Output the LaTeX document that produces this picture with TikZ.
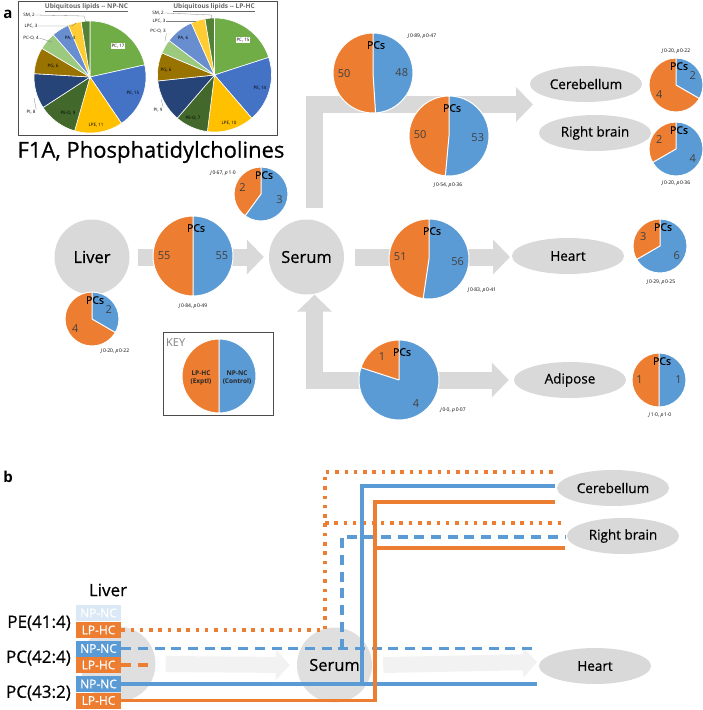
\documentclass[tikz,border=0pt]{standalone}
\usepackage{fontspec}
\setmainfont{Open Sans}
\newfontfamily\semib{Open Sans}[FakeBold=0.6]
\usetikzlibrary{arrows.meta,shapes.geometric}

\definecolor{pcblue}{HTML}{5B9BD5}
\definecolor{pcorange}{HTML}{ED7D31}
\definecolor{organgray}{HTML}{D9D9D9}
\definecolor{numgray}{HTML}{404040}
\definecolor{lipPC}{HTML}{70AD47}
\definecolor{lipPE}{HTML}{4472C4}
\definecolor{lipLPE}{HTML}{FFC000}
\definecolor{lipPEO}{HTML}{43682B}
\definecolor{lipPI}{HTML}{264478}
\definecolor{lipPG}{HTML}{997300}
\definecolor{lipPCO}{HTML}{9BC97E}
\definecolor{lipPA}{HTML}{698ED0}
\definecolor{lipLPC}{HTML}{FFCD33}
\definecolor{lipSM}{HTML}{548235}

% PCs pie: name, x, y, radius, NP-NC, LP-HC
\newcommand{\pcpie}[6]{%
  \pgfmathsetmacro\pcang{-90+#5*(360/(#5+#6))}%
  \pgfmathsetmacro\pcmidb{(\pcang-90)/2}%
  \pgfmathsetmacro\pcmido{(\pcang+270)/2}%
  \coordinate (#1) at (#2,#3);
  \fill[pcblue] (#1) -- ++(-90:#4) arc (-90:\pcang:#4) -- cycle;
  \fill[pcorange] (#1) -- ++(\pcang:#4) arc (\pcang:270:#4) -- cycle;
  \draw[white, line width=1pt] (#1) circle (#4) (#1) -- ++(-90:#4) (#1) -- ++(\pcang:#4);
  \path (#1) ++(\pcmidb:{0.72*#4}) node[pcnum] (#1-np) {#5};
  \path (#1) ++(\pcmido:{0.72*#4}) node[pcnum] (#1-lp) {#6};
  \path (#1) ++(3,{-0.7*#4}) node[pcs] (#1-lbl) {PCs};
}

\begin{document}
\begin{tikzpicture}[x=1pt, y=-1pt,
  organ/.style={circle, fill=organgray, minimum size=75pt, inner sep=0pt, font=\semib\fontsize{16.5}{18}\selectfont},
  tissue/.style={ellipse, fill=organgray, minimum width=112pt, minimum height=36pt, inner sep=0pt, font=\semib\fontsize{13.5}{15}\selectfont},
  band/.style={draw=organgray, line width=17pt, -{Triangle[width=34pt,length=17pt]}},
  pcnum/.style={font=\fontsize{11}{12}\selectfont, text=numgray, inner sep=0pt},
  pcs/.style={font=\semib\fontsize{10.5}{12}\selectfont, inner sep=0pt},
  stat/.style={font=\fontsize{5}{6}\selectfont, inner sep=0pt},
  lip/.style={font=\fontsize{4.5}{5}\selectfont, inner sep=0.6pt},
  lead/.style={draw=gray, line width=0.3pt},
  grp/.style={rectangle, minimum width=45pt, minimum height=16pt, inner sep=0pt, text=white, font=\semib\fontsize{12}{13}\selectfont},
  lipid/.style={font=\semib\fontsize{17}{19}\selectfont, anchor=east, inner sep=0pt},
  trace/.style={line width=3.2pt},
  dotline/.style={trace, dash pattern=on 3.5pt off 5.8pt},
  dashline/.style={trace, dash pattern=on 10pt off 6.7pt},
]
\useasboundingbox (0,0) rectangle (703,710);

% ---- panel a ----
\node[font=\fontsize{15}{16}\selectfont\bfseries] (panela) at (8,14) {a};

% inset with the two lipid pies
\draw[black!70, line width=0.6pt] (18,1) rectangle (277,135);
\node[font=\fontsize{6.5}{7}\selectfont\bfseries, text=black!60] (titlenp) at (86.5,8) {\underline{Ubiquitous lipids -{}- NP-NC}};
\node[font=\fontsize{6.5}{7}\selectfont\bfseries, text=black!60] (titlelp) at (214,8) {\underline{Ubiquitous lipids -{}- LP-HC}};
\coordinate (npc) at (90,77);
\coordinate (lpc) at (214.5,75);
\foreach \a/\b/\c in {-90/-12.53/lipPC, -12.53/55.82/lipPE, 55.82/105.95/lipLPE, 105.95/146.96/lipPEO,
    146.96/183.42/lipPI, 183.42/210.76/lipPG, 210.76/228.99/lipPCO, 228.99/247.22/lipPA, 247.22/260.89/lipLPC, 260.89/270/lipSM}
  \filldraw[fill=\c, draw=white, line width=0.6pt] (npc) -- ++(\a:56) arc (\a:\b:56) -- cycle;
\foreach \a/\b/\c in {-90/-18/lipPC, -18/49.2/lipPE, 49.2/97.2/lipLPE, 97.2/130.8/lipPEO,
    130.8/174/lipPI, 174/202.8/lipPG, 202.8/217.2/lipPCO, 217.2/246/lipPA, 246/260.4/lipLPC, 260.4/270/lipSM}
  \filldraw[fill=\c, draw=white, line width=0.6pt] (lpc) -- ++(\a:57) arc (\a:\b:57) -- cycle;

\node[lip, fill=white] (np-pc) at (118,46) {PC, 17};
\node[lip] (np-pe) at (133,93) {PE, 15};
\node[lip] (np-lpe) at (96,125) {LPE, 11};
\node[lip] (np-peo) at (68,113) {PE-O, 9};
\node[lip] (np-pi) at (31,112) {PI, 8};
\node[lip] (np-pg) at (53,66) {PG, 6};
\node[lip] (np-pco) at (31,38) {PC-O, 4};
\node[lip] (np-pa) at (70,38) {PA, 4};
\node[lip] (np-lpc) at (31,26) {LPC, 3};
\node[lip] (np-sm) at (29,15) {SM, 2};
\draw[lead] (np-sm.east) -- (84,16) -- (86,22);
\draw[lead] (np-lpc.east) -- (72,26) -- (76,23);
\draw[lead] (np-pco.east) -- (52,42);
\draw[lead] (np-pi.north east) -- (34,98);

\node[lip, fill=white] (lp-pc) at (243,40) {PC, 15};
\node[lip] (lp-pe) at (260,88) {PE, 14};
\node[lip] (lp-lpe) at (229,123) {LPE, 10};
\node[lip] (lp-peo) at (193,118) {PE-O, 7};
\node[lip] (lp-pi) at (158,110) {PI, 9};
\node[lip] (lp-pg) at (166,70) {PG, 6};
\node[lip] (lp-pco) at (158,31) {PC-O, 3};
\node[lip] (lp-pa) at (183,38) {PA, 6};
\node[lip] (lp-lpc) at (159,21) {LPC, 3};
\node[lip] (lp-sm) at (158,13) {SM, 2};
\draw[lead] (lp-sm.east) -- (212,15) -- (211,19);
\draw[lead] (lp-lpc.east) -- (196,21);
\draw[lead] (lp-pco.south east) -- (165,41);
\draw[lead] (lp-pi.north east) -- (161,99);

\node[font=\semib\fontsize{22}{24}\selectfont] (f1a) at (151,152) {F1A, Phosphatidylcholines};

% organs and tissues
\node[organ] (liver) at (92,257) {Liver};
\node[organ] (serum) at (306.5,257) {Serum};
\node[tissue] (cereb) at (586,84) {Cerebellum};
\node[tissue] (rbrain) at (595,133) {Right brain};
\node[tissue] (heart) at (568,256) {Heart};
\node[tissue] (adipose) at (570,380) {Adipose};
\coordinate (brainin) at (533,104.5);
\coordinate (heartin) at (510,257);

% block arrows
\draw[band] ([xshift=8pt]liver.east) -- ([xshift=-5pt]serum.west);
\draw[band] ([xshift=8pt,yshift=11.5pt]serum.north) |- (brainin);
\draw[band] ([xshift=11pt]serum.east) -- (heartin);
\draw[band, {Triangle[width=34pt,length=17pt]}-{Triangle[width=34pt,length=17pt]}]
  ([xshift=8pt]serum.south) |- ([xshift=-5pt]adipose.west);

% pies
\pcpie{lvpie}{92}{319}{27}{2}{4}
\pcpie{lspie}{193}{256}{40}{55}{55}
\pcpie{sepie}{261}{194}{27}{3}{2}
\pcpie{cbpie}{373}{73}{40}{48}{50}
\pcpie{rbpie}{449}{136}{40}{53}{50}
\pcpie{htpie}{429}{259}{40}{56}{51}
\pcpie{adpie}{399}{380}{40}{4}{1}
\pcpie{cbpiet}{676}{85}{27}{2}{4}
\pcpie{rbpiet}{676}{149}{27}{4}{2}
\pcpie{htpiet}{660}{246}{27}{6}{3}
\pcpie{adpiet}{659}{380}{27}{1}{1}

% statistics
\node[stat] (lvstat) at (115,351) {\textit{J}\,0·20, \textit{p}\,0·22};
\node[stat] (lsstat) at (193,306) {\textit{J}\,0·84, \textit{p}\,0·49};
\node[stat] (sestat) at (223,173) {\textit{J}\,0·67, \textit{p}\,1·0};
\node[stat] (cbstat) at (422,36) {\textit{J}\,0·89, \textit{p}\,0·47};
\node[stat] (rbstat) at (448,185) {\textit{J}\,0·54, \textit{p}\,0·36};
\node[stat] (htstat) at (482,290) {\textit{J}\,0·83, \textit{p}\,0·41};
\node[stat] (adstat) at (453,410) {\textit{J}\,0·0, \textit{p}\,0·07};
\node[stat] (cbstatt) at (676,51) {\textit{J}\,0·20, \textit{p}\,0·22};
\node[stat] (rbstatt) at (676,183) {\textit{J}\,0·20, \textit{p}\,0·36};
\node[stat] (htstatt) at (661,282) {\textit{J}\,0·29, \textit{p}\,0·25};
\node[stat] (adstatt) at (660,415) {\textit{J}\,1·0, \textit{p}\,1·0};

% key
\draw[black!70, line width=0.6pt] (163,332) rectangle (273,415);
\node[anchor=west, text=black!50, font=\fontsize{11}{12}\selectfont, inner sep=0pt] (keylbl) at (166,343) {KEY};
\coordinate (keyc) at (219,376);
\fill[pcblue] (keyc) -- ++(-90:37) arc (-90:90:37) -- cycle;
\fill[pcorange] (keyc) -- ++(90:37) arc (90:270:37) -- cycle;
\draw[white, line width=1pt] (keyc) circle (37) ([yshift=37pt]keyc) -- ([yshift=-37pt]keyc);
\node[font=\fontsize{6.5}{8}\selectfont\bfseries, text=black!85, align=center] (keylp) at (201,378) {LP-HC\\(Exptl)};
\node[font=\fontsize{6.5}{8}\selectfont\bfseries, text=black!85, align=center] (keynp) at (237,378) {NP-NC\\(Control)};

% ---- panel b ----
\node[font=\fontsize{15}{16}\selectfont\bfseries] (panelb) at (8,477) {b};
\node[organ, fill=organgray!85] (liverb) at (118,664) {};
\node[organ, fill=organgray!85] (serumb) at (334.5,665) {Serum};
\draw[draw=black!5, line width=16pt, -{Triangle[width=30pt,length=14pt]}] ([xshift=10pt]liverb.east) -- ([xshift=-7pt]serumb.west);
\draw[draw=black!5, line width=16pt, -{Triangle[width=30pt,length=14pt]}] ([xshift=11pt]serumb.east) -- (537,662);

\node[tissue] (cerebb) at (613,488) {Cerebellum};
\node[tissue] (rbrainb) at (623,536) {Right brain};
\node[tissue] (heartb) at (595,666) {Heart};

\node[font=\semib\fontsize{17}{19}\selectfont, inner sep=0pt] (liverlbl) at (108,590) {Liver};
\node[grp, fill=pcblue!22] (pe-np) at (98.5,613) {NP-NC};
\node[grp, fill=pcorange] (pe-lp) at (98.5,630) {LP-HC};
\node[grp, fill=pcblue] (pc42-np) at (98.5,648.5) {NP-NC};
\node[grp, fill=pcorange] (pc42-lp) at (98.5,665) {LP-HC};
\node[grp, fill=pcblue] (pc43-np) at (98.5,684) {NP-NC};
\node[grp, fill=pcorange] (pc43-lp) at (98.5,700.5) {LP-HC};
\node[lipid] (pe414) at (71,623) {PE(41:4)};
\node[lipid] (pc424) at (71,658) {PC(42:4)};
\node[lipid] (pc432) at (71,693) {PC(43:2)};

% PE(41:4)
\coordinate (pe-up) at (325,472);
\coordinate (pe-cb) at (555,472);
\coordinate (pe-rb) at (565,523);
\draw[pcorange, dotline] (pe-lp.east) -| (pe-up) -- (pe-cb);
\draw[pcorange, dotline] (pe-up |- pe-rb) -- (pe-rb);
% PC(42:4)
\coordinate (np42-up) at (342,537);
\coordinate (np42-rb) at (565,537);
\coordinate (np42-ht) at (537,648.5);
\coordinate (lp42-end) at (152,665);
\draw[pcblue, dashline] (pc42-np.east) -- (np42-ht);
\draw[pcblue, dashline] (np42-up |- pc42-np.east) -- (np42-up) -- (np42-rb);
\draw[pcorange, dashline] (pc42-lp.east) -- (lp42-end);
% PC(43:2)
\coordinate (np43-up) at (362,486);
\coordinate (np43-cb) at (555,486);
\coordinate (np43-ht) at (537,684);
\coordinate (lp43-up) at (375,502);
\coordinate (lp43-cb) at (555,502);
\coordinate (lp43-rb) at (565,548);
\draw[pcblue, trace] (pc43-np.east) -- (np43-ht);
\draw[pcblue, trace] (np43-up |- pc43-np.east) -- (np43-up) -- (np43-cb);
\draw[pcorange, trace] (pc43-lp.east) -| (lp43-up) -- (lp43-cb);
\draw[pcorange, trace] (lp43-up |- lp43-rb) -- (lp43-rb);

\end{tikzpicture}
\end{document}
